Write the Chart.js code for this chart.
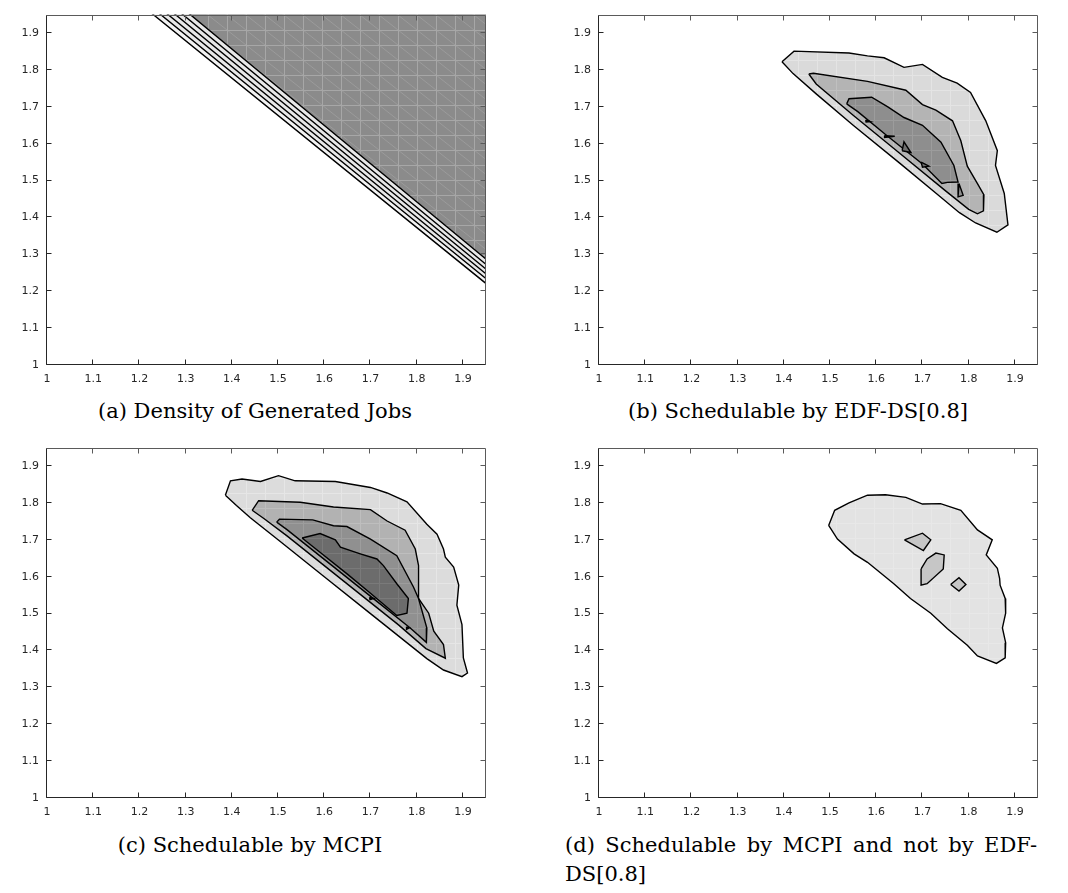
<!DOCTYPE html>
<html>
<head>
<meta charset="utf-8">
<script src="https://cdn.jsdelivr.net/npm/chart.js@4.4.1/dist/chart.umd.min.js"></script>
<style>
  body { margin: 0; background: #fff; width: 1068px; height: 893px; position: relative; overflow: hidden; }
  canvas { position: absolute; }
  .cap { position: absolute; font-family: 'DejaVu Serif', serif; font-size: 21px; line-height: 29px; color: #000; white-space: nowrap; }
</style>
</head>
<body>
<canvas id="chartA" width="492" height="392" style="left:0;top:0"></canvas>
<canvas id="chartB" width="492" height="392" style="left:552px;top:0"></canvas>
<canvas id="chartC" width="492" height="392" style="left:0;top:433px"></canvas>
<canvas id="chartD" width="492" height="392" style="left:552px;top:433px"></canvas>

<div class="cap" style="left:55px;top:397px;width:400px;text-align:center">(a) Density of Generated Jobs</div>
<div class="cap" style="left:598px;top:397px;width:400px;text-align:center">(b) Schedulable by EDF-DS[0.8]</div>
<div class="cap" style="left:50px;top:831px;width:400px;text-align:center">(c) Schedulable by MCPI</div>
<div class="cap" style="left:565px;top:831px;width:472px;white-space:normal">
  <div style="text-align:justify;text-align-last:justify">(d) Schedulable by MCPI and not by EDF-</div>
  <div>DS[0.8]</div>
</div>

<script>
// axis ticks (same on both axes, all panels)
var tickValues = [1, 1.1, 1.2, 1.3, 1.4, 1.5, 1.6, 1.7, 1.8, 1.9];
var tickLabels = ['1', '1.1', '1.2', '1.3', '1.4', '1.5', '1.6', '1.7', '1.8', '1.9'];
var axisMin = 1, axisMax = 1.95;

// (a) straight contour lines: where each one meets the top edge (x) and the right edge (y)
var aContourTopX = [1.230, 1.246, 1.262, 1.278, 1.294, 1.310];
var aContourRightY = [1.221, 1.234, 1.247, 1.260, 1.273, 1.287];

// (b) EDF-DS[0.8] contour polygons, outer to inner
var bLevel1 = [[1.396,1.822],[1.422,1.851],[1.541,1.846],[1.581,1.838],[1.617,1.833],[1.660,1.807],[1.700,1.815],[1.743,1.780],[1.775,1.764],[1.804,1.739],[1.837,1.662],[1.862,1.581],[1.858,1.541],[1.877,1.465],[1.885,1.380],[1.861,1.360],[1.815,1.385],[1.780,1.413],[1.730,1.465],[1.650,1.548],[1.550,1.650],[1.470,1.735],[1.420,1.790]];
var bLevel2 = [[1.454,1.789],[1.464,1.791],[1.581,1.769],[1.664,1.745],[1.700,1.706],[1.729,1.691],[1.765,1.662],[1.783,1.608],[1.797,1.539],[1.819,1.492],[1.833,1.461],[1.832,1.418],[1.819,1.410],[1.800,1.422],[1.750,1.472],[1.650,1.575],[1.550,1.677],[1.470,1.762]];
var bLevel3 = [[1.536,1.708],[1.541,1.722],[1.590,1.726],[1.625,1.700],[1.660,1.671],[1.700,1.650],[1.740,1.604],[1.768,1.541],[1.777,1.496],[1.754,1.495],[1.742,1.492],[1.700,1.545],[1.620,1.625],[1.560,1.687]];
var bSpots3 = [[[1.779,1.492],[1.777,1.456],[1.788,1.460]]];
var bSpots4 = [
  [[1.577,1.664],[1.587,1.660],[1.578,1.659]],
  [[1.618,1.622],[1.640,1.620],[1.618,1.617]],
  [[1.656,1.581],[1.660,1.605],[1.675,1.576]],
  [[1.697,1.550],[1.714,1.539],[1.700,1.536]]
];

// (c) MCPI contour polygons, outer to inner
var cLevel1 = [[1.386,1.821],[1.397,1.860],[1.422,1.865],[1.462,1.858],[1.501,1.874],[1.537,1.860],[1.624,1.858],[1.700,1.842],[1.736,1.827],[1.779,1.803],[1.822,1.742],[1.844,1.715],[1.858,1.675],[1.862,1.653],[1.880,1.626],[1.891,1.577],[1.887,1.523],[1.898,1.470],[1.901,1.380],[1.910,1.339],[1.898,1.329],[1.858,1.347],[1.822,1.378],[1.780,1.420],[1.700,1.500],[1.600,1.600],[1.500,1.700],[1.440,1.760],[1.410,1.793]];
var cLevel2 = [[1.444,1.780],[1.458,1.806],[1.548,1.802],[1.620,1.789],[1.700,1.782],[1.736,1.751],[1.775,1.726],[1.797,1.675],[1.804,1.630],[1.804,1.541],[1.826,1.501],[1.837,1.452],[1.858,1.416],[1.862,1.379],[1.820,1.405],[1.760,1.470],[1.680,1.550],[1.600,1.630],[1.520,1.710],[1.470,1.757]];
var cLevel3 = [[1.497,1.748],[1.503,1.756],[1.575,1.754],[1.620,1.738],[1.649,1.736],[1.700,1.702],[1.757,1.657],[1.793,1.572],[1.804,1.541],[1.822,1.461],[1.821,1.422],[1.786,1.461],[1.720,1.527],[1.640,1.607],[1.560,1.687],[1.520,1.727]];
var cLevel4 = [[1.552,1.705],[1.591,1.717],[1.624,1.700],[1.635,1.680],[1.678,1.662],[1.714,1.648],[1.728,1.630],[1.757,1.581],[1.782,1.541],[1.779,1.501],[1.757,1.495],[1.700,1.555],[1.650,1.607],[1.590,1.667]];
var cSpots5 = [
  [[1.698,1.544],[1.707,1.541],[1.699,1.538]],
  [[1.778,1.464],[1.784,1.461],[1.778,1.457]]
];

// (d) MCPI but not EDF-DS[0.8]
var dLevel1 = [[1.497,1.739],[1.510,1.780],[1.541,1.800],[1.581,1.821],[1.620,1.822],[1.664,1.815],[1.700,1.797],[1.739,1.798],[1.783,1.780],[1.819,1.727],[1.851,1.700],[1.838,1.659],[1.862,1.623],[1.867,1.595],[1.868,1.577],[1.879,1.541],[1.880,1.501],[1.873,1.461],[1.880,1.421],[1.879,1.380],[1.860,1.365],[1.819,1.385],[1.797,1.414],[1.754,1.459],[1.718,1.501],[1.674,1.541],[1.638,1.581],[1.581,1.639],[1.552,1.662],[1.516,1.702]];
var dLevel2 = [
  [[1.661,1.700],[1.700,1.718],[1.718,1.700],[1.702,1.671]],
  [[1.697,1.621],[1.710,1.648],[1.729,1.664],[1.747,1.659],[1.745,1.621],[1.710,1.581],[1.697,1.577]],
  [[1.761,1.579],[1.779,1.597],[1.794,1.579],[1.779,1.561]]
];

var axisColor = '#262626';
var lineColor = '#000000';

// faint mesh lines that show through the filled contours
function meshFill(canvas, base, mesh, diag) {
  var tile = document.createElement('canvas');
  tile.width = 19; tile.height = 15;
  var g = tile.getContext('2d');
  g.fillStyle = base; g.fillRect(0, 0, 19, 15);
  if (diag) {
    g.strokeStyle = diag; g.lineWidth = 1;
    g.beginPath(); g.moveTo(0, 0); g.lineTo(19, 15); g.stroke();
  }
  g.fillStyle = mesh;
  g.fillRect(0, 0, 19, 1);
  g.fillRect(0, 0, 1, 15);
  var p = canvas.getContext('2d').createPattern(tile, 'repeat');
  p.setTransform(new DOMMatrix().translate(18, 0));
  return p;
}

function toPoints(poly) {
  var pts = poly.map(function (p) { return {x: p[0], y: p[1]}; });
  pts.push({x: poly[0][0], y: poly[0][1]});
  return pts;
}

function polyDataset(poly, fill, order) {
  return {
    data: toPoints(poly),
    borderColor: lineColor,
    borderWidth: 1.4,
    borderJoinStyle: 'miter',
    backgroundColor: fill,
    fill: 'shape',
    pointRadius: 0,
    tension: 0,
    order: order
  };
}

// box round the axes with inward ticks on all four sides
var boxPlugin = {
  id: 'box',
  afterDraw: function (chart) {
    var ctx = chart.ctx, a = chart.chartArea, sx = chart.scales.x, sy = chart.scales.y;
    var l = Math.round(a.left) - 0.5, r = Math.round(a.right) - 0.5;
    var t = Math.round(a.top) + 0.5, b = Math.round(a.bottom) - 0.5;
    ctx.save();
    ctx.lineWidth = 1;
    ctx.strokeStyle = '#5a5a5a';
    ctx.beginPath();
    ctx.moveTo(l, t); ctx.lineTo(r, t); ctx.lineTo(r, b);
    sx.ticks.forEach(function (tk) {
      var p = Math.round(sx.getPixelForValue(tk.value)) - 0.5;
      ctx.moveTo(p, t); ctx.lineTo(p, t + 5);
    });
    sy.ticks.forEach(function (tk) {
      var p = Math.round(sy.getPixelForValue(tk.value)) - 0.5;
      ctx.moveTo(r, p); ctx.lineTo(r - 5, p);
    });
    ctx.stroke();
    ctx.strokeStyle = axisColor;
    ctx.beginPath();
    ctx.moveTo(l, t); ctx.lineTo(l, b); ctx.lineTo(r, b);
    sx.ticks.forEach(function (tk) {
      var p = Math.round(sx.getPixelForValue(tk.value)) - 0.5;
      ctx.moveTo(p, b); ctx.lineTo(p, b - 5);
    });
    sy.ticks.forEach(function (tk) {
      var p = Math.round(sy.getPixelForValue(tk.value)) - 0.5;
      ctx.moveTo(l, p); ctx.lineTo(l + 5, p);
    });
    ctx.stroke();
    ctx.restore();
  }
};

function axis(size, pad, isX) {
  return {
    type: 'linear',
    min: axisMin,
    max: axisMax,
    afterBuildTicks: function (s) { s.ticks = tickValues.map(function (v) { return {value: v}; }); },
    afterFit: function (s) { if (isX) s.height = size; else s.width = size; },
    ticks: {
      autoSkip: false,
      maxRotation: 0,
      padding: pad,
      color: axisColor,
      font: {family: "'DejaVu Sans', sans-serif", size: 11},
      callback: function (v, i) { return tickLabels[i]; }
    },
    grid: {display: false, drawTicks: false},
    border: {display: false}
  };
}

function makeChart(id, datasets) {
  return new Chart(document.getElementById(id), {
    type: 'line',
    data: {datasets: datasets},
    options: {
      responsive: false,
      animation: false,
      events: [],
      layout: {padding: {top: 11, right: 6, left: 0, bottom: 0}},
      plugins: {legend: {display: false}, tooltip: {enabled: false}},
      scales: {x: axis(27, 8, true), y: axis(47, 8, false)}
    },
    plugins: [boxPlugin]
  });
}

// (a) half-planes above each straight contour, extended past the box
function halfPlane(tx, ry) {
  var dx = 1.95 - tx, dy = ry - 1.95;
  return [[tx - 0.3 * dx, 1.95 - 0.3 * dy], [1.95 + 0.3 * dx, ry + 0.3 * dy], [2.4, 2.4]];
}

var cvA = document.getElementById('chartA');
var aFills = ['#f2f2f2', '#e8e8e8', '#e8e8e8', '#e8e8e8', '#e8e8e8', meshFill(cvA, '#8b8b8b', '#a7a7a7', '#9b9b9b')];
makeChart('chartA', aContourTopX.map(function (tx, k) {
  return polyDataset(halfPlane(tx, aContourRightY[k]), aFills[k], 10 - k);
}));

var cvB = document.getElementById('chartB');
makeChart('chartB', [
  polyDataset(bLevel1, meshFill(cvB, '#dadada', '#e4e4e4'), 10),
  polyDataset(bLevel2, meshFill(cvB, '#b4b4b4', '#c0c0c0'), 9),
  polyDataset(bLevel3, meshFill(cvB, '#8e8e8e', '#9c9c9c'), 8)
].concat(bSpots3.map(function (p) { return polyDataset(p, '#8e8e8e', 7); }))
 .concat(bSpots4.map(function (p) { return polyDataset(p, '#6e6e6e', 6); })));

var cvC = document.getElementById('chartC');
makeChart('chartC', [
  polyDataset(cLevel1, meshFill(cvC, '#dcdcdc', '#e6e6e6'), 10),
  polyDataset(cLevel2, meshFill(cvC, '#b2b2b2', '#bebebe'), 9),
  polyDataset(cLevel3, meshFill(cvC, '#909090', '#9d9d9d'), 8),
  polyDataset(cLevel4, meshFill(cvC, '#6c6c6c', '#7a7a7a'), 7)
].concat(cSpots5.map(function (p) { return polyDataset(p, '#333333', 6); })));

var cvD = document.getElementById('chartD');
makeChart('chartD', [
  polyDataset(dLevel1, meshFill(cvD, '#e3e3e3', '#e8e8e8'), 10)
].concat(dLevel2.map(function (p) { return polyDataset(p, '#c6c6c6', 9); })));
</script>
</body>
</html>
